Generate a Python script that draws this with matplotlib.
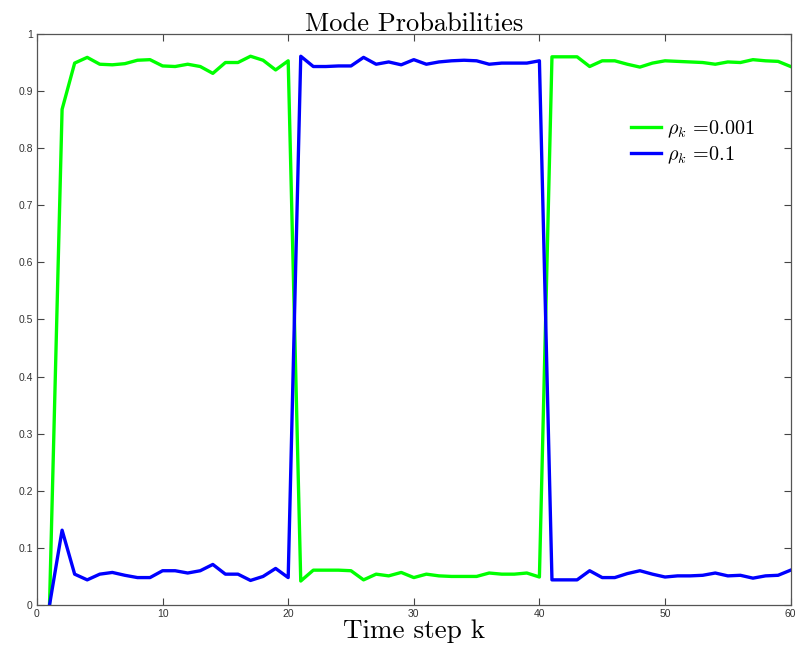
import numpy as np
import matplotlib
matplotlib.use("Agg")
import matplotlib.pyplot as plt

# time steps k = 1..60
steps = np.arange(1, 61)

# rho_k = 0.001
p_green = [0.0, 0.868, 0.949, 0.959, 0.947, 0.946, 0.948, 0.954, 0.955, 0.944,
           0.943, 0.947, 0.943, 0.931, 0.950, 0.950, 0.961, 0.954, 0.937, 0.953,
           0.042, 0.061, 0.061, 0.061, 0.060, 0.044, 0.054, 0.051, 0.057, 0.048,
           0.054, 0.051, 0.050, 0.050, 0.050, 0.056, 0.054, 0.054, 0.056, 0.049,
           0.960, 0.960, 0.960, 0.943, 0.953, 0.953, 0.947, 0.942, 0.949, 0.953,
           0.952, 0.951, 0.950, 0.947, 0.951, 0.950, 0.955, 0.953, 0.952, 0.943]

# rho_k = 0.1
p_blue = [0.0, 0.131, 0.054, 0.044, 0.054, 0.057, 0.052, 0.048, 0.048, 0.060,
          0.060, 0.056, 0.060, 0.071, 0.054, 0.054, 0.043, 0.050, 0.064, 0.048,
          0.961, 0.943, 0.943, 0.944, 0.944, 0.959, 0.947, 0.951, 0.946, 0.955,
          0.947, 0.951, 0.953, 0.954, 0.953, 0.947, 0.949, 0.949, 0.949, 0.953,
          0.044, 0.044, 0.044, 0.060, 0.048, 0.048, 0.055, 0.060, 0.054, 0.049,
          0.051, 0.051, 0.052, 0.056, 0.051, 0.052, 0.047, 0.051, 0.052, 0.061]

plt.rcParams['mathtext.fontset'] = 'cm'
plt.rcParams['font.family'] = ['Liberation Sans', 'DejaVu Sans']

fig = plt.figure(figsize=(7.95, 6.52), dpi=100)
ax = fig.add_axes([0.0465, 0.0721, 0.948, 0.8758])

ax.plot(steps, p_green, color='#00ff00', lw=2.4, label=r'$\rho_k$ =0.001')
ax.plot(steps, p_blue, color='#0000ff', lw=2.4, label=r'$\rho_k$ =0.1')

ax.set_xlim(0, 60)
ax.set_ylim(0, 1)
ax.set_xticks(np.arange(0, 61, 10))
ax.set_yticks(np.arange(0, 1.01, 0.1))
ax.set_yticklabels(['0', '0.1', '0.2', '0.3', '0.4', '0.5', '0.6', '0.7', '0.8', '0.9', '1'])
ax.tick_params(direction='in', top=True, right=True, length=5, width=0.8,
               labelsize=7.5, colors='#444444', labelcolor='#333333', pad=3)
for s in ax.spines.values():
    s.set_color('#555555')
    s.set_linewidth(0.9)

ax.set_title('Mode Probabilities', family='cmr10', fontsize=19, pad=2)
ax.set_xlabel('Time step k', family='cmr10', fontsize=19.5, labelpad=0)

leg = ax.legend(loc='upper left', bbox_to_anchor=(0.775, 0.87), frameon=False,
                prop={'family': 'cmr10', 'size': 14.5}, handlelength=1.5,
                handletextpad=0.3, labelspacing=0.22, borderpad=0)

fig.savefig('out.png', dpi=100)
